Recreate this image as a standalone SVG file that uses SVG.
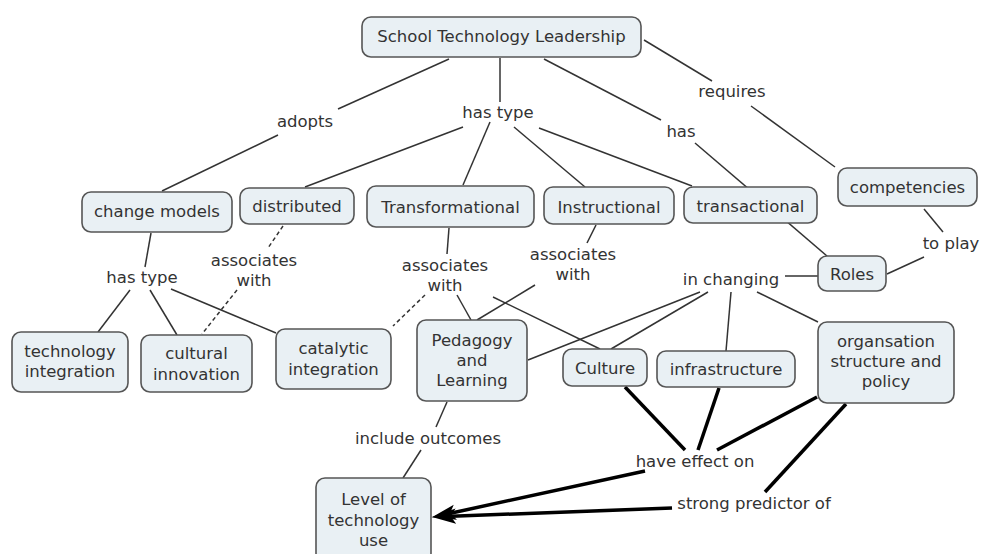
<svg xmlns="http://www.w3.org/2000/svg" width="981" height="554" viewBox="0 0 981 554">
<style>
.box{fill:#e9f0f4;stroke:#555;stroke-width:1.6}
.t{font-family:"DejaVu Sans",Verdana,sans-serif;font-size:16.5px;fill:#333;text-anchor:middle}
.c{fill:none;stroke:#333;stroke-width:1.5}
.d{fill:none;stroke:#333;stroke-width:1.5;stroke-dasharray:4 3}
.k{fill:none;stroke:#000;stroke-width:3.5}
</style>
<defs>
<marker id="ah" markerUnits="userSpaceOnUse" markerWidth="24" markerHeight="16" viewBox="0 0 22 14" refX="10" refY="7" orient="auto">
<path d="M0,0 L22,7 L0,14 L5,7 z" fill="#000"/>
</marker>
</defs>
<rect width="981" height="554" fill="#fff"/>
<g id="connectors">
<line class="c" x1="449" y1="59" x2="338" y2="109"/>
<line class="c" x1="278" y1="135" x2="162" y2="191"/>
<line class="c" x1="500" y1="58" x2="500" y2="102"/>
<line class="c" x1="463" y1="127" x2="305" y2="187"/>
<line class="c" x1="490" y1="122" x2="463" y2="185"/>
<line class="c" x1="514" y1="127" x2="585" y2="187"/>
<line class="c" x1="539" y1="128" x2="692" y2="186"/>
<line class="c" x1="544" y1="59" x2="661" y2="120"/>
<line class="c" x1="695" y1="143" x2="827" y2="256"/>
<line class="c" x1="644" y1="40" x2="712" y2="81"/>
<line class="c" x1="751" y1="106" x2="835" y2="167"/>
<line class="c" x1="924" y1="209" x2="943" y2="232"/>
<line class="c" x1="924" y1="257" x2="887" y2="274"/>
<line class="c" x1="818" y1="276" x2="785" y2="276"/>
<line class="c" x1="700" y1="292" x2="528" y2="360"/>
<line class="c" x1="708" y1="292" x2="611" y2="349"/>
<line class="c" x1="731" y1="292" x2="726" y2="351"/>
<line class="c" x1="757" y1="292" x2="818" y2="322"/>
<line class="c" x1="449" y1="228" x2="447" y2="254"/>
<line class="c" x1="457" y1="295" x2="471" y2="320"/>
<line class="c" x1="493" y1="297" x2="600" y2="349"/>
<line class="d" x1="425" y1="295" x2="393" y2="326"/>
<line class="c" x1="596" y1="225" x2="587" y2="243"/>
<line class="c" x1="535" y1="285" x2="477" y2="320"/>
<line class="d" x1="283" y1="226" x2="268" y2="248"/>
<line class="d" x1="237" y1="290" x2="202" y2="334"/>
<line class="c" x1="151" y1="233" x2="145" y2="267"/>
<line class="c" x1="130" y1="290" x2="98" y2="332"/>
<line class="c" x1="150" y1="290" x2="177" y2="335"/>
<line class="c" x1="171" y1="289" x2="276" y2="333"/>
<line class="c" x1="447" y1="402" x2="436" y2="427"/>
<line class="c" x1="421" y1="450" x2="403" y2="478"/>
<line class="k" x1="625" y1="387" x2="685" y2="450"/>
<line class="k" x1="719" y1="388" x2="698" y2="450"/>
<line class="k" x1="817" y1="397" x2="717" y2="450"/>
<line class="k" x1="846" y1="404" x2="765" y2="492"/>
<line class="k" x1="645" y1="471" x2="444.7" y2="514.5" marker-end="url(#ah)"/>
<line class="k" x1="672" y1="508" x2="445" y2="516.5" marker-end="url(#ah)"/>
</g>
<g id="n-stl"><rect class="box" x="362" y="17" width="279" height="40" rx="9"/><text class="t" x="501.5" y="42">School Technology Leadership</text></g>
<g id="n-change"><rect class="box" x="82" y="192" width="150" height="40" rx="9"/><text class="t" x="157" y="217">change models</text></g>
<g id="n-distributed"><rect class="box" x="240" y="188" width="114" height="36" rx="9"/><text class="t" x="297" y="212">distributed</text></g>
<g id="n-transformational"><rect class="box" x="367" y="186" width="167" height="41" rx="9"/><text class="t" x="450.5" y="213">Transformational</text></g>
<g id="n-instructional"><rect class="box" x="544" y="187" width="130" height="37" rx="9"/><text class="t" x="609" y="213">Instructional</text></g>
<g id="n-transactional"><rect class="box" x="684" y="187" width="133" height="36" rx="9"/><text class="t" x="750.5" y="212">transactional</text></g>
<g id="n-competencies"><rect class="box" x="838" y="168" width="139" height="38" rx="9"/><text class="t" x="907.5" y="193">competencies</text></g>
<g id="n-roles"><rect class="box" x="818" y="256" width="68" height="35" rx="9"/><text class="t" x="852" y="280">Roles</text></g>
<g id="n-techint"><rect class="box" x="12" y="332" width="116" height="60" rx="9"/><text class="t" x="70" y="357">technology</text><text class="t" x="70" y="377">integration</text></g>
<g id="n-cultinn"><rect class="box" x="141" y="335" width="111" height="57" rx="9"/><text class="t" x="196.5" y="359">cultural</text><text class="t" x="196.5" y="380">innovation</text></g>
<g id="n-catalytic"><rect class="box" x="276" y="329" width="115" height="60" rx="9"/><text class="t" x="333.5" y="354">catalytic</text><text class="t" x="333.5" y="375">integration</text></g>
<g id="n-pedagogy"><rect class="box" x="417" y="320" width="110" height="81" rx="9"/><text class="t" x="472" y="346">Pedagogy</text><text class="t" x="472" y="366">and</text><text class="t" x="472" y="386">Learning</text></g>
<g id="n-culture"><rect class="box" x="563" y="349" width="84" height="37" rx="9"/><text class="t" x="605" y="374">Culture</text></g>
<g id="n-infra"><rect class="box" x="657" y="351" width="138" height="36" rx="9"/><text class="t" x="726" y="375">infrastructure</text></g>
<g id="n-org"><rect class="box" x="818" y="322" width="136" height="81" rx="9"/><text class="t" x="886" y="347">organsation</text><text class="t" x="886" y="367">structure and</text><text class="t" x="886" y="387">policy</text></g>
<g id="n-level"><rect class="box" x="316" y="478" width="115" height="84" rx="9"/><text class="t" x="373.5" y="505">Level of</text><text class="t" x="373.5" y="526">technology</text><text class="t" x="373.5" y="546">use</text></g>
<g id="labels">
<g id="l-adopts"><text class="t" x="305" y="127">adopts</text></g>
<g id="l-hastype1"><text class="t" x="498" y="118">has type</text></g>
<g id="l-requires"><text class="t" x="732" y="97">requires</text></g>
<g id="l-has"><text class="t" x="681" y="137">has</text></g>
<g id="l-hastype2"><text class="t" x="142" y="283">has type</text></g>
<g id="l-assoc1"><text class="t" x="254" y="266">associates</text><text class="t" x="254" y="286">with</text></g>
<g id="l-assoc2"><text class="t" x="445" y="271">associates</text><text class="t" x="445" y="291">with</text></g>
<g id="l-assoc3"><text class="t" x="573" y="260">associates</text><text class="t" x="573" y="280">with</text></g>
<g id="l-toplay"><text class="t" x="951" y="249">to play</text></g>
<g id="l-inchanging"><text class="t" x="731" y="285">in changing</text></g>
<g id="l-include"><text class="t" x="428" y="444">include outcomes</text></g>
<g id="l-effect"><text class="t" x="695" y="467">have effect on</text></g>
<g id="l-predictor"><text class="t" x="754" y="509">strong predictor of</text></g>
</g>
</svg>
